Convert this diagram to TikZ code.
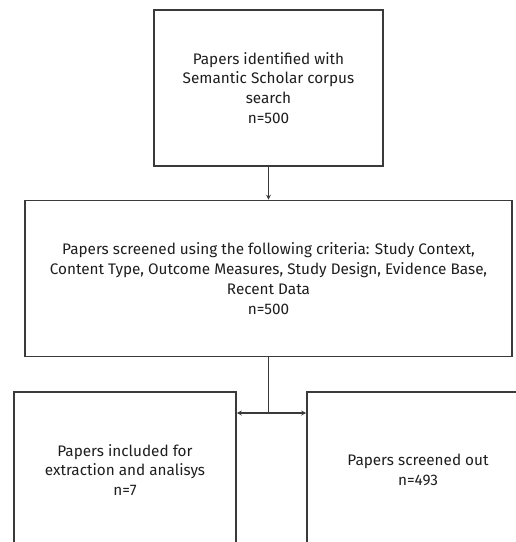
\documentclass[tikz,border=0pt]{standalone}
\usepackage{fontspec}
\setmainfont{Fira Sans}
\usetikzlibrary{arrows.meta}
\definecolor{linec}{HTML}{3A3A3A}
\definecolor{textc}{HTML}{1E1E1E}
\begin{document}
\begin{tikzpicture}[x=1pt,y=-1pt,
  box/.style={draw=linec, line width=1.6pt, inner sep=0pt, align=center,
    text=textc, font=\fontsize{15.3}{19.8}\selectfont, minimum height=156pt},
  conn/.style={draw=linec, line width=1.6pt},
  tip/.style={-{Stealth[length=5pt,width=5pt]}}]
\useasboundingbox (0,0) rectangle (516,542);
\clip (0,0) rectangle (516,542);
\node[box, minimum width=229pt] (top) at (268.5,88)
  {Papers identified with\\Semantic Scholar corpus\\search\\n=500};
\node[box, minimum width=487pt] (scr) at (268.5,278.5)
  {Papers screened using the following criteria: Study Context,\\Content Type, Outcome Measures, Study Design, Evidence Base,\\Recent Data\\n=500};
\node[box, minimum width=222pt] (inc) at (125,470)
  {Papers included for\\extraction and analisys\\n=7};
\node[box, minimum width=222pt] (out) at (418,470)
  {Papers screened out\\n=493};
\coordinate (j) at (268.5,413);
\draw[conn, tip] (top) -- (scr);
\draw[conn] (scr.south) -- (j);
\draw[conn, {Stealth[length=5pt,width=5pt]}-{Stealth[length=5pt,width=5pt]}] (inc.east |- j) -- (out.west |- j);
\end{tikzpicture}
\end{document}
